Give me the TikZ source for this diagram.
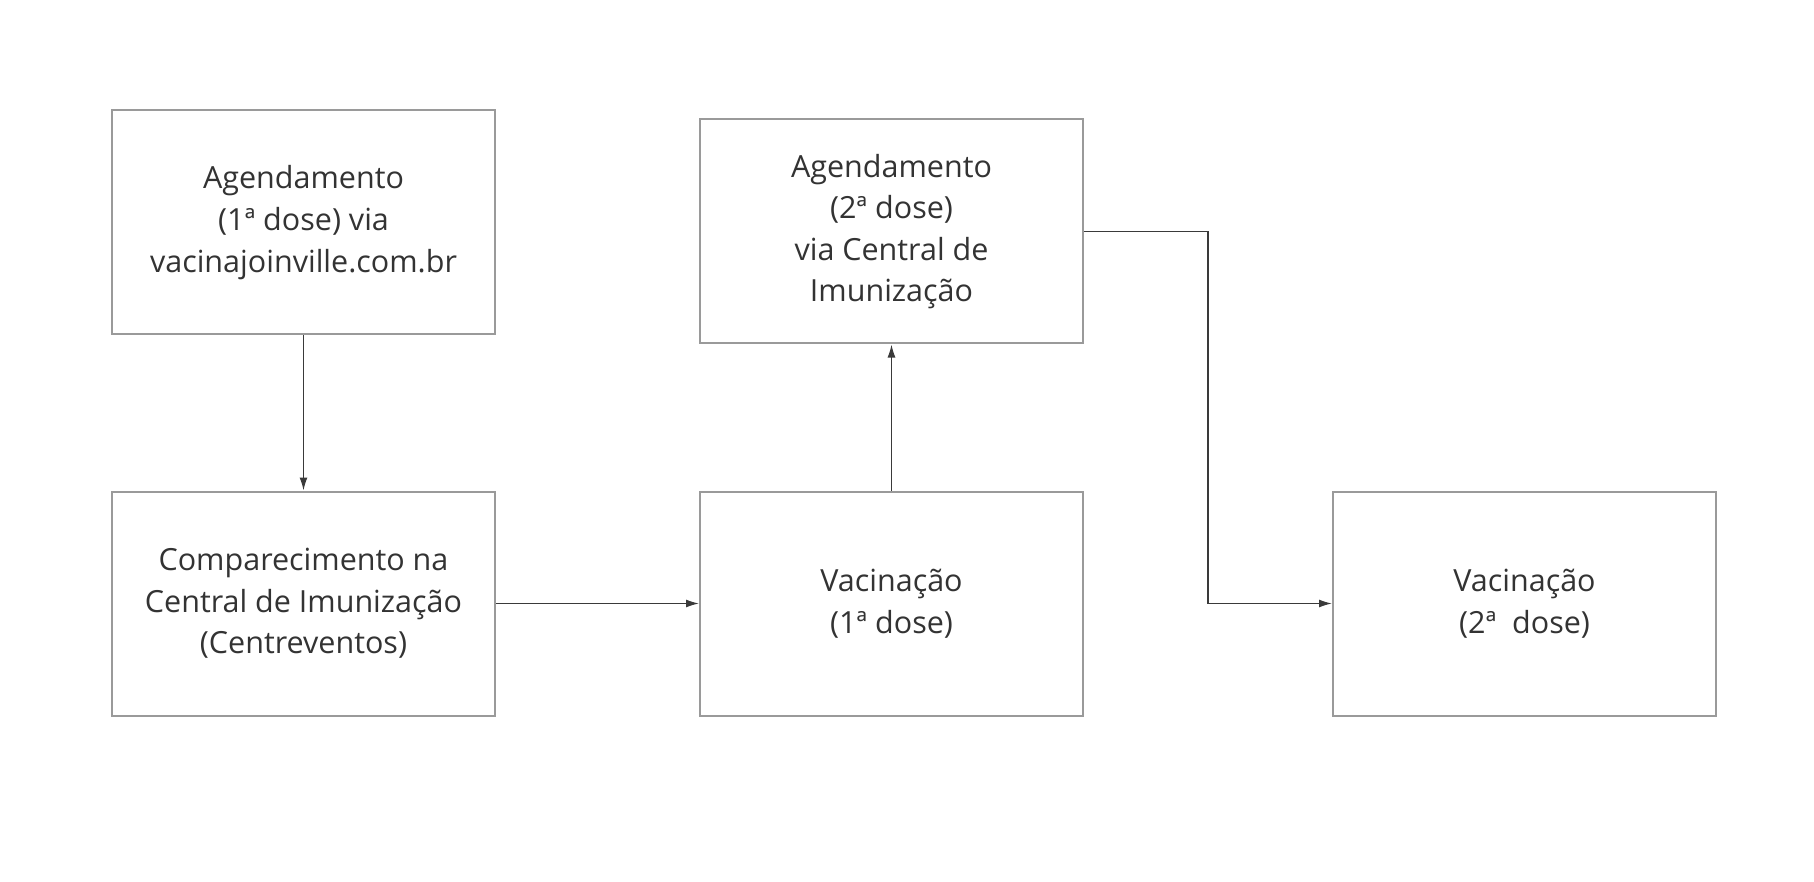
\documentclass[tikz,border=0pt]{standalone}
\usepackage{fontspec}
\setmainfont{Open Sans}
\usetikzlibrary{arrows.meta}
\definecolor{boxline}{HTML}{9A9A9A}
\definecolor{txt}{HTML}{333333}
\definecolor{conn}{HTML}{3A3A3A}
\begin{document}
\begin{tikzpicture}[x=1pt,y=-1pt,
  box/.style={draw=boxline, line width=2pt, rectangle, minimum width=383pt, minimum height=224pt,
    align=center, text=txt, font=\fontsize{30.5}{41.6}\selectfont, inner sep=0pt},
  arr/.style={draw=conn, line width=1.4pt, -{Latex[length=13pt,width=8pt]}}]
\useasboundingbox (0,0) rectangle (1814,882);
\node[box] (b1) at (303.5,222.5) {Agendamento\\(1ª dose) via\\vacinajoinville.com.br};
\node[box] (b2) at (891.5,231.5) {Agendamento\\(2ª dose)\\via Central de\\Imunização};
\node[box] (b3) at (303.5,603.5) {Comparecimento na\\Central de Imunização\\(Centreventos)};
\node[box] (b4) at (891.5,603.5) {Vacinação\\(1ª dose)};
\node[box] (b5) at (1524.5,603.5) {Vacinação\\(2ª\ \ dose)};
\coordinate (k) at (1208,603.5);
\draw[arr] (b1.south) -- (b3.north);
\draw[arr] (b3.east) -- (b4.west);
\draw[arr] (b4.north) -- (b2.south);
\draw[arr] (b2.east) -| (k) -- (b5.west);
\end{tikzpicture}
\end{document}
